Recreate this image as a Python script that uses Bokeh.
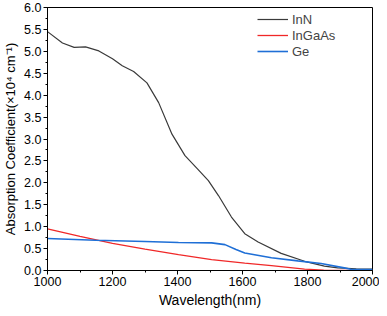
from bokeh.plotting import figure
from bokeh.models import Range1d, FixedTicker, Legend, LegendItem
from bokeh.embed import file_html
from bokeh.resources import INLINE

inn_x = [1000, 1046, 1082, 1117, 1158, 1200, 1230, 1265, 1306, 1342, 1383, 1423, 1460, 1495, 1526, 1566, 1607, 1648, 1719, 1791, 1852, 1893, 1950, 2000]
inn_y = [5.45, 5.19, 5.09, 5.10, 5.01, 4.83, 4.67, 4.54, 4.28, 3.83, 3.11, 2.62, 2.33, 2.05, 1.71, 1.22, 0.84, 0.65, 0.39, 0.21, 0.10, 0.06, 0.04, 0.03]

ingaas_x = [1000, 1100, 1200, 1300, 1403, 1505, 1607, 1689, 1791, 1850, 1900, 2000]
ingaas_y = [0.95, 0.78, 0.62, 0.49, 0.36, 0.25, 0.17, 0.11, 0.03, 0.01, 0.0, 0.0]

ge_x = [1000, 1148, 1300, 1403, 1505, 1546, 1580, 1607, 1689, 1770, 1842, 1913, 1933, 1960, 2000]
ge_y = [0.73, 0.69, 0.66, 0.64, 0.63, 0.59, 0.48, 0.40, 0.29, 0.22, 0.16, 0.06, 0.03, 0.02, 0.02]

x_ticks = [1000, 1200, 1400, 1600, 1800, 2000]
y_ticks = [0.0, 0.5, 1.0, 1.5, 2.0, 2.5, 3.0, 3.5, 4.0, 4.5, 5.0, 5.5, 6.0]
x_label = "Wavelength(nm)"
y_label = "Absorption Coefficient(×10⁴ cm⁻¹)"

p = figure(width=379, height=310, output_backend="svg", toolbar_location=None,
           x_range=Range1d(1000, 2000), y_range=Range1d(0, 6))
p.min_border_left = 30
p.min_border_right = 7
p.min_border_top = 7
p.min_border_bottom = 38
p.grid.visible = False
p.outline_line_color = "black"
p.outline_line_width = 1
p.background_fill_color = "white"
p.border_fill_color = "white"

font = "Liberation Sans"
for ax in (p.xaxis[0], p.yaxis[0]):
    ax.axis_line_color = "black"
    ax.major_tick_line_color = "black"
    ax.minor_tick_line_color = "black"
    ax.major_tick_in = 0
    ax.major_tick_out = 4
    ax.minor_tick_in = 0
    ax.minor_tick_out = 2
    ax.major_label_text_font = font
    ax.major_label_text_font_size = "12.5px"
    ax.major_label_text_color = "black"
    ax.axis_label_text_font = font
    ax.axis_label_text_font_size = "13px"
    ax.axis_label_text_font_style = "normal"
    ax.axis_label_text_color = "black"
    ax.major_label_standoff = 2
    ax.axis_label_standoff = 3

p.xaxis.ticker = FixedTicker(ticks=x_ticks, minor_ticks=list(range(1000, 2001, 100)))
p.yaxis.ticker = FixedTicker(ticks=y_ticks, minor_ticks=[i * 0.25 for i in range(25)])
p.xaxis.major_label_overrides = {t: str(t) for t in x_ticks}
p.yaxis.major_label_overrides = {t: f"{t:.1f}" for t in y_ticks}
p.xaxis.axis_label = x_label
p.xaxis.axis_label_text_font_size = "14px"
p.yaxis.axis_label = y_label

r1 = p.line(inn_x, inn_y, line_color="#3a3a3a", line_width=1.2)
r2 = p.line(ingaas_x, ingaas_y, line_color="#f02828", line_width=1.3)
r3 = p.line(ge_x, ge_y, line_color="#1f6fd6", line_width=1.6)

legend = Legend(items=[LegendItem(label="InN", renderers=[r1]),
                       LegendItem(label="InGaAs", renderers=[r2]),
                       LegendItem(label="Ge", renderers=[r3])],
                location=(206, 207))
legend.border_line_alpha = 0
legend.background_fill_alpha = 0
legend.label_text_font = font
legend.label_text_font_size = "13px"
legend.glyph_width = 31
legend.glyph_height = 16
legend.label_height = 16
legend.spacing = 0
legend.padding = 4
legend.margin = 0
legend.label_standoff = 4
p.add_layout(legend)

open("out.html", "w").write(file_html(p, INLINE))
